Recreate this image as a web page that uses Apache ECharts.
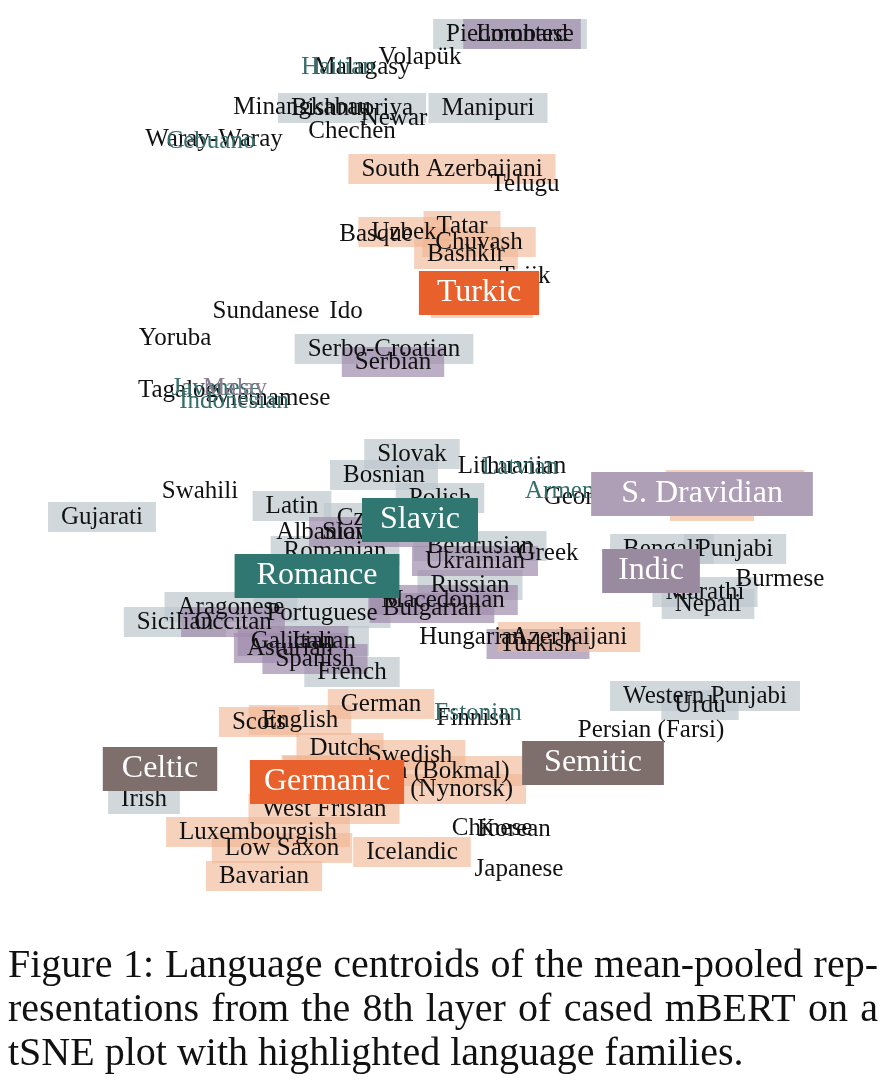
<!DOCTYPE html>
<html>
<head>
<meta charset="utf-8">
<script src="https://cdn.jsdelivr.net/npm/echarts@6/dist/echarts.min.js"></script>
<style>
html,body{margin:0;padding:0;background:#fff;}
#chart{width:890px;height:1080px;}
</style>
</head>
<body>
<div id="chart"></div>
<script>
// t-SNE positions: [name, x, y] (y grows downward)
var grayLangs = [
  ['Piedmontese', 510, 34], ['Bishnupriya', 352, 108], ['Manipuri', 488, 108],
  ['Serbo-Croatian', 384, 349], ['Slovak', 412, 454], ['Bosnian', 384, 475],
  ['Gujarati', 102, 517], ['Latin', 292, 506], ['Polish', 440, 498], ['Czech', 368, 518],
  ['Romanian', 335, 551], ['Belarusian', 480, 546], ['Bengali', 662, 549], ['Punjabi', 735, 549],
  ['Marathi', 705, 592], ['Nepali', 708, 604], ['Russian', 470, 585], ['Sicilian', 175, 622],
  ['Aragonese', 231, 607], ['Portuguese', 322, 613], ['Italian', 324, 641], ['French', 352, 672],
  ['Western Punjabi', 705, 696], ['Urdu', 700, 705], ['Welsh', 165, 764], ['Irish', 144, 799]
];
var purpleLangs = [
  ['Lombard', 522, 34], ['Serbian', 393, 362], ['Slovenian', 372, 532], ['Ukrainian', 475, 561],
  ['Macedonian', 443, 600], ['Bulgarian', 432, 608], ['Occitan', 233, 622], ['Galician', 293, 641],
  ['Asturian', 290, 648], ['Spanish', 315, 659], ['Turkish', 538, 644]
];
var peachLangs = [
  ['South Azerbaijani', 452, 169], ['Uzbek', 404, 232], ['Tatar', 462, 226], ['Chuvash', 479, 242],
  ['Bashkir', 466, 254], ['Kazakh', 482, 303], ['Malayalam', 735, 485], ['Tamil', 712, 506],
  ['Azerbaijani', 569, 637], ['German', 381, 704], ['Scots', 259, 722], ['English', 300, 720],
  ['Dutch', 340, 748], ['Swedish', 410, 755], ['Danish', 330, 770], ['Norwegian (Bokmal)', 403, 771],
  ['Norwegian (Nynorsk)', 403, 789], ['West Frisian', 324, 809], ['Luxembourgish', 258, 832],
  ['Low Saxon', 282, 848], ['Icelandic', 412, 852], ['Bavarian', 264, 876]
];
var plainLangs = [
  ['Volapük', 420, 57], ['Malagasy', 362, 67], ['Minangkabau', 302, 107], ['Newar', 394, 118],
  ['Chechen', 352, 131], ['Waray-Waray', 214, 139], ['Telugu', 525, 184], ['Basque', 376, 234],
  ['Tajik', 525, 276], ['Sundanese', 266, 311], ['Ido', 346, 311], ['Yoruba', 175, 338],
  ['Tagalog', 178, 390], ['Vietnamese', 272, 398], ['Lithuanian', 512, 466], ['Swahili', 200, 491],
  ['Georgian', 590, 497], ['Albanian', 322, 532], ['Greek', 548, 553], ['Burmese', 780, 579],
  ['Hungarian', 472, 637], ['Finnish', 474, 718], ['Persian (Farsi)', 651, 730],
  ['Chinese', 492, 828], ['Korean', 514, 829], ['Japanese', 519, 869]
];
var tealLangs = [
  ['Haitian', 338, 67], ['Cebuano', 211, 141], ['Javanese', 216, 388], ['Indonesian', 234, 401],
  ['Latvian', 520, 467], ['Armenian', 575, 491], ['Estonian', 478, 713]
];
var mutedLangs = [['Malay', 235, 388]];

var families = ['Turkic', 'S. Dravidian', 'Slavic', 'Romance', 'Indic', 'Celtic', 'Germanic', 'Semitic'];
var familyX = [479, 702, 420, 317, 651, 160, 327, 593];
var familyY = [293, 494, 520, 576, 571, 769, 782, 763];

var familyColor = {
  'Turkic': '#e8612c', 'S. Dravidian': '#ae9eb6', 'Slavic': '#2f7770', 'Romance': '#2f7770',
  'Indic': '#9a8aa0', 'Celtic': '#7f6f6c', 'Germanic': '#e8612c', 'Semitic': '#7f6f6c'
};
// horizontal padding of each family box, as drawn in the paper
var familyPad = {
  'Turkic': 18, 'S. Dravidian': 30, 'Slavic': 18, 'Romance': 22,
  'Indic': 16, 'Celtic': 19, 'Germanic': 14, 'Semitic': 22
};

var captionLines = [
  'Figure 1: Language centroids of the mean-pooled rep-',
  'resentations from the 8th layer of cased mBERT on a',
  'tSNE plot with highlighted language families.'
];

var serif = '"Liberation Serif", "Times New Roman", serif';

// one series per list; boxes and words are drawn in separate passes so
// every word stays on top of every tinted box
function langSeries(list, bg, textColor, z) {
  return {
    type: 'scatter', z: z, silent: true, symbolSize: 1,
    itemStyle: { color: 'rgba(0,0,0,0)', opacity: 1 },
    data: list.map(function (d) { return { name: d[0], value: [d[1], d[2]] }; }),
    label: {
      show: true, position: 'inside', formatter: '{b}', opacity: 1,
      fontFamily: serif, fontSize: 25, lineHeight: 24, color: textColor,
      backgroundColor: bg, padding: [3, 13]
    }
  };
}

var familySeries = {
  type: 'scatter', z: 20, silent: true, symbolSize: 1,
  itemStyle: { color: 'rgba(0,0,0,0)', opacity: 1 },
  data: families.map(function (f, i) {
    return {
      name: f, value: [familyX[i], familyY[i]],
      label: { backgroundColor: familyColor[f], padding: [6, familyPad[f]] }
    };
  }),
  label: {
    show: true, position: 'inside', formatter: '{b}', opacity: 1,
    fontFamily: serif, fontSize: 32, lineHeight: 32, color: '#fff'
  }
};

// caption, justified like the paper
var ctx = document.createElement('canvas').getContext('2d');
var capFont = 40;
ctx.font = capFont + 'px ' + serif;
var graphics = [];
captionLines.forEach(function (line, li) {
  var words = line.split(' ');
  var widths = words.map(function (w) { return ctx.measureText(w).width; });
  var total = widths.reduce(function (a, b) { return a + b; }, 0);
  var justify = li < captionLines.length - 1;
  var gap = justify ? (870 - total) / (words.length - 1) : ctx.measureText(' ').width;
  var x = 8;
  words.forEach(function (w, wi) {
    graphics.push({
      type: 'text', x: x, y: 966 + li * 44,
      style: { text: w, fontFamily: serif, fontSize: capFont, fill: '#111', verticalAlign: 'middle' }
    });
    x += widths[wi] + gap;
  });
});

var clear = 'rgba(0,0,0,0)';
var gray = 'rgba(190,200,205,0.7)';
var purple = 'rgba(160,140,172,0.7)';
var peach = 'rgba(240,180,145,0.6)';

var chart = echarts.init(document.getElementById('chart'));
chart.setOption({
  animation: false,
  backgroundColor: '#fff',
  grid: { left: 0, right: 0, top: 0, height: 920 },
  xAxis: { type: 'value', min: 0, max: 890, show: false },
  yAxis: { type: 'value', min: 0, max: 920, inverse: true, show: false },
  graphic: graphics,
  series: [
    langSeries(grayLangs, gray, clear, 2),
    langSeries(purpleLangs, purple, clear, 3),
    langSeries(peachLangs, peach, clear, 4),
    langSeries(grayLangs, null, '#111', 6),
    langSeries(purpleLangs, null, '#111', 6),
    langSeries(peachLangs, null, '#111', 6),
    langSeries(plainLangs, null, '#111', 6),
    langSeries(tealLangs, null, '#356e6b', 6),
    langSeries(mutedLangs, null, '#8b7d92', 6),
    familySeries
  ]
});
</script>
</body>
</html>
